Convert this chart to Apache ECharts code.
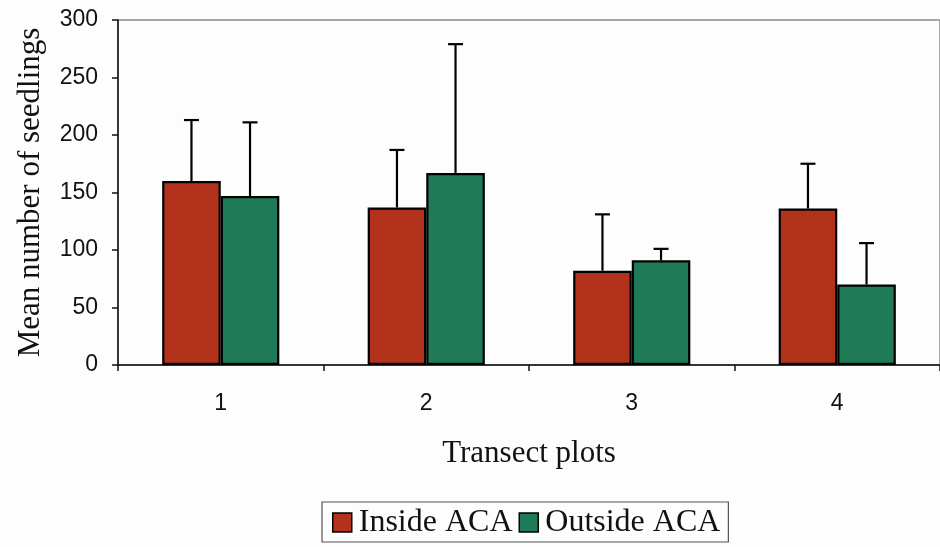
<!DOCTYPE html>
<html>
<head>
<meta charset="utf-8">
<script src="https://cdn.jsdelivr.net/npm/echarts@6/dist/echarts.min.js"></script>
<style>
html,body{margin:0;padding:0;background:#fdfdfd;}
#c{width:940px;height:547px;}
</style>
</head>
<body>
<div id="c"></div>
<script>
var categories = ['1', '2', '3', '4'];
var insideMeans = [160, 137, 82, 136];
var insideErrTop = [213, 187, 131, 175];
var outsideMeans = [147, 167, 91, 70];
var outsideErrTop = [211, 279, 101, 106];
var yTicks = [0, 50, 100, 150, 200, 250, 300];

var RED = '#b3321c';
var GREEN = '#1f7a58';
var CAT_GAP = 0.43;

function errData(means, tops) {
  return means.map(function (m, i) { return [i, m, tops[i]]; });
}
function errSeries(name, means, tops, side) {
  return {
    type: 'custom',
    name: name + ' err',
    silent: true,
    z: 1,
    data: errData(means, tops),
    encode: { x: 0, y: [1, 2] },
    renderItem: function (params, api) {
      var idx = api.value(0);
      var base = api.coord([idx, api.value(1)]);
      var top = api.coord([idx, api.value(2)]);
      var band = api.size([1, 0])[0];
      var bw = band * (1 - CAT_GAP) / 2;
      var x = base[0] + side * bw / 2;
      var cap = 7.5;
      return {
        type: 'group',
        children: [
          { type: 'line', shape: { x1: x, y1: base[1], x2: x, y2: top[1] }, style: { stroke: '#000', lineWidth: 2.2 } },
          { type: 'line', shape: { x1: x - cap, y1: top[1], x2: x + cap, y2: top[1] }, style: { stroke: '#000', lineWidth: 2.2 } }
        ]
      };
    }
  };
}

var chart = echarts.init(document.getElementById('c'));
chart.setOption({
  backgroundColor: '#fdfdfd',
  animation: false,
  grid: { left: 118, top: 20, width: 824, height: 345, show: true, borderColor: '#8a8a8a', borderWidth: 1.5, backgroundColor: 'transparent' },
  legend: {
    top: 502,
    left: 322,
    data: ['Inside ACA', 'Outside ACA'],
    itemWidth: 19,
    itemHeight: 19,
    itemGap: 6,
    padding: [3, 8, 2, 10],
    borderColor: '#555',
    borderWidth: 1.2,
    icon: 'rect',
    itemStyle: { borderColor: '#000', borderWidth: 1.5 },
    textStyle: { fontFamily: 'Liberation Serif', fontSize: 32, lineHeight: 35, color: '#111', padding: [0, 0, 0, 2] }
  },
  xAxis: {
    type: 'category',
    data: categories,
    name: 'Transect plots',
    nameLocation: 'middle',
    nameGap: 73,
    nameTextStyle: { fontFamily: 'Liberation Serif', fontSize: 31, color: '#111' },
    axisLine: { lineStyle: { color: '#111', width: 1.5 } },
    axisTick: { show: true, length: 6, lineStyle: { color: '#111', width: 1.5 } },
    axisLabel: { fontFamily: 'Liberation Sans', fontSize: 23, color: '#111', margin: 27 }
  },
  yAxis: {
    type: 'value',
    min: 0,
    max: 300,
    interval: 50,
    name: 'Mean number of seedlings',
    nameLocation: 'middle',
    nameGap: 72,
    nameTextStyle: { fontFamily: 'Liberation Serif', fontSize: 31, color: '#111' },
    splitLine: { show: false },
    axisLine: { show: true, lineStyle: { color: '#111', width: 1.5 } },
    axisTick: { show: true, length: 6, lineStyle: { color: '#111', width: 1.5 } },
    axisLabel: { fontFamily: 'Liberation Sans', fontSize: 23, color: '#111', margin: 20,
      formatter: function (v) { return yTicks.indexOf(v) >= 0 ? String(v) : ''; } }
  },
  series: [
    {
      name: 'Inside ACA', type: 'bar', data: insideMeans, barGap: '0%', barCategoryGap: (CAT_GAP * 100) + '%',
      itemStyle: { color: RED, borderColor: '#000', borderWidth: 2.2 }, z: 2
    },
    {
      name: 'Outside ACA', type: 'bar', data: outsideMeans, barGap: '0%', barCategoryGap: (CAT_GAP * 100) + '%',
      itemStyle: { color: GREEN, borderColor: '#000', borderWidth: 2.2 }, z: 2
    },
    errSeries('Inside ACA', insideMeans, insideErrTop, -1),
    errSeries('Outside ACA', outsideMeans, outsideErrTop, 1)
  ]
});
</script>
</body>
</html>
